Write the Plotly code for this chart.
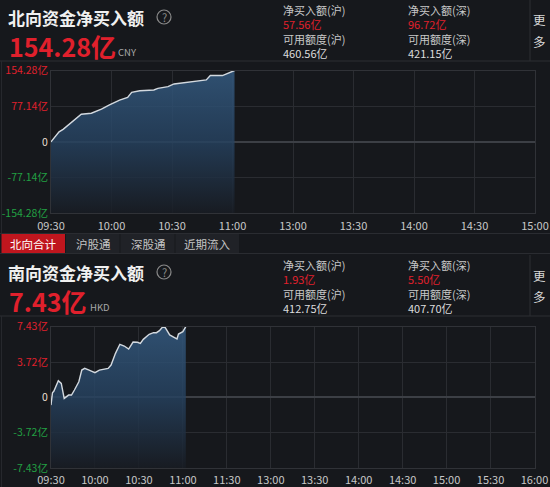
import plotly.graph_objects as go
from decimal import Decimal, ROUND_HALF_UP

# ---------------- data ----------------
# Northbound (Shanghai/Shenzhen connect) net buy, trading minutes since 09:30
north_minutes = [0, 4, 6, 11, 15, 20, 25, 29, 34, 38, 40, 44, 51, 53, 58, 61, 65, 71, 77, 79, 85, 91]
north_values = [0, 21.8, 27.1, 45.2, 59.8, 62.0, 70.7, 80.1, 90.3, 96.0, 106.9, 110.6,
                112.2, 115.6, 119.4, 125.2, 127.4, 130.9, 134.0, 143.4, 143.4, 154.28]
north_tick_minutes = [0, 30, 60, 90, 120, 150, 180, 210, 240]
north_tick_labels = ["09:30", "10:00", "10:30", "11:00", "13:00", "13:30", "14:00", "14:30", "15:00"]
north_total = "154.28亿"
north_currency = "CNY"
north_stats = [("净买入额(沪)", "57.56亿", "可用额度(沪)", "460.56亿"),
               ("净买入额(深)", "96.72亿", "可用额度(深)", "421.15亿")]

# Southbound net buy
south_minutes = [0, 1, 2, 5, 7, 9, 12, 14, 16, 19, 21, 23, 26, 30, 33, 36, 39, 41, 44, 47, 50,
                 53, 56, 59, 61, 63, 67, 70, 72, 74, 76, 78, 81, 84, 86, 87, 90, 92]
south_values = [-0.81, 0.49, 0.66, 1.75, 1.47, -0.11, 0.24, 0.24, 0.77, 1.64, 2.87, 3.05, 2.87,
                2.59, 2.87, 2.95, 3.05, 3.40, 4.63, 5.58, 5.40, 5.08, 5.82, 5.79, 5.68, 6.10,
                6.63, 6.80, 6.80, 7.01, 7.38, 7.33, 6.56, 6.31, 6.14, 6.66, 6.91, 7.43]
south_tick_minutes = [0, 30, 60, 90, 120, 150, 180, 210, 240, 270, 300, 330]
south_tick_labels = ["09:30", "10:00", "10:30", "11:00", "11:30", "13:00", "13:30",
                     "14:00", "14:30", "15:00", "15:30", "16:00"]
south_total = "7.43亿"
south_currency = "HKD"
south_stats = [("净买入额(沪)", "1.93亿", "可用额度(沪)", "412.75亿"),
               ("净买入额(深)", "5.50亿", "可用额度(深)", "407.70亿")]

tab_labels = ["北向合计", "沪股通", "深股通", "近期流入"]

# ---------------- styling ----------------
W, H = 550, 487
BG = "#16181c"
GRID = "#2a2c31"
FRAME = "#303237"
RED = "#e0202c"
GREEN = "#22a043"
TXT = "#c8c8c8"
FONT = "Noto Sans CJK SC"
BIG = 25  # headline number size


def px(x):
    return x / W


def py(y):
    return 1 - y / H


def fmt2(v):
    return str(Decimal(str(v)).quantize(Decimal("0.01"), rounding=ROUND_HALF_UP))


def approx_width(s, size):
    # rough advance widths for bold Noto Sans CJK
    w = 0.0
    for ch in s:
        if ch.isdigit():
            w += 0.57
        elif ch == ".":
            w += 0.28
        else:
            w += 1.0
    return w * size


def ytick_text(vmax):
    half = vmax / 2
    vals = [-vmax, -half, 0, half, vmax]
    txt = []
    for v in vals:
        if v > 0:
            txt.append(f'<span style="color:{RED}">{fmt2(v)}亿</span>')
        elif v < 0:
            txt.append(f'<span style="color:{GREEN}">-{fmt2(-v)}亿</span>')
        else:
            txt.append('<span style="color:#e6ded2">0</span>')
    return vals, txt


gradient = [[0.0, "rgba(24,28,35,0.85)"],
            [0.5, "rgba(38,66,96,0.82)"],
            [1.0, "rgba(52,90,128,0.85)"]]

fig = go.Figure()


def add_series(xs, ys, vmax, xa, ya):
    fig.add_trace(go.Scatter(x=xs, y=[-vmax] * len(xs), mode="lines",
                             line=dict(width=0), hoverinfo="skip", showlegend=False,
                             xaxis=xa, yaxis=ya))
    fig.add_trace(go.Scatter(x=xs, y=ys, mode="lines", fill="tonexty",
                             fillgradient=dict(type="vertical", colorscale=gradient,
                                               start=-vmax, stop=vmax),
                             line=dict(color="#d3d9df", width=1.4),
                             hoverinfo="skip", showlegend=False,
                             xaxis=xa, yaxis=ya))


north_max = north_values[-1]
south_max = south_values[-1]
add_series(north_minutes, north_values, north_max, "x", "y")
add_series(south_minutes, south_values, south_max, "x2", "y2")

axis_common = dict(showgrid=True, gridcolor=GRID, gridwidth=1, showline=True, mirror=True,
                   linecolor=FRAME, linewidth=1, ticks="", fixedrange=True, automargin=False)

nv, nt = ytick_text(north_max)
sv, st = ytick_text(south_max)

fig.update_layout(
    width=W, height=H,
    margin=dict(l=0, r=0, t=0, b=0, pad=0),
    paper_bgcolor=BG, plot_bgcolor=BG,
    font=dict(family=FONT, color=TXT, size=11),
    xaxis=dict(domain=[px(51), px(535)], range=[0, 240], tickvals=north_tick_minutes,
               ticktext=north_tick_labels, zeroline=False, anchor="y", ticklabelstandoff=2,
               tickfont=dict(size=11, color=TXT), **axis_common),
    yaxis=dict(domain=[py(213.3), py(70.5)], range=[-north_max, north_max], tickvals=nv,
               ticktext=nt, zeroline=True, zerolinecolor="#3c3f45", zerolinewidth=1.5,
               anchor="x", tickfont=dict(size=10.5), **axis_common),
    xaxis2=dict(domain=[px(51), px(534.5)], range=[0, 330], tickvals=south_tick_minutes,
                ticktext=south_tick_labels, zeroline=False, anchor="y2", ticklabelstandoff=2,
                tickfont=dict(size=11, color=TXT), **axis_common),
    yaxis2=dict(domain=[py(468), py(326.7)], range=[-south_max, south_max], tickvals=sv,
                ticktext=st, zeroline=True, zerolinecolor="#3c3f45", zerolinewidth=1.5,
                anchor="x2", tickfont=dict(size=10.5), **axis_common),
)

shapes = []
annotations = []


def line(x0, y0, x1, y1, color=FRAME, width=1):
    shapes.append(dict(type="line", xref="paper", yref="paper", x0=px(x0), y0=py(y0),
                       x1=px(x1), y1=py(y1), line=dict(color=color, width=width)))


def text(x, y, s, size, color, bold=False, xanchor="left"):
    if bold:
        s = f"<b>{s}</b>"
    annotations.append(dict(xref="paper", yref="paper", x=px(x), y=py(y), text=s,
                            showarrow=False, xanchor=xanchor, yanchor="middle", borderpad=0,
                            align="left", font=dict(family=FONT, size=size, color=color)))


def header(top, title, total, currency, stats):
    # title, help icon, headline total
    text(7, top + 17, title, 17, "#f0f0f0", bold=True)
    shapes.append(dict(type="circle", xref="paper", yref="paper",
                       x0=px(157), x1=px(171), y0=py(top + 10), y1=py(top + 24),
                       line=dict(color="#8a8a8a", width=1.2)))
    text(164, top + 17, "?", 11, "#8a8a8a", xanchor="center")
    text(8, top + 46, total, BIG, RED, bold=True)
    text(approx_width(total, BIG) + 14, top + 52, currency, 9.5, "#a8a8a8")
    # stats columns: label / value / label / value, one block per exchange
    for col, (lbl1, val1, lbl2, val2) in zip([282, 407], stats):
        block = (f"{lbl1}<br><span style='color:{RED}'>{val1}</span><br>"
                 f"{lbl2}<br><span style='color:#dcdcdc'>{val2}</span>")
        text(col, top + 31, block, 11, TXT)
    text(539, top + 20, "更", 12.5, "#d8d8d8", xanchor="center")
    text(539, top + 41.5, "多", 12.5, "#d8d8d8", xanchor="center")
    line(530, top, 530, top + 61, color="#2c2e33")
    line(0, top + 61, 550, top + 61, color="#2c2e33")


header(0, "北向资金净买入额", north_total, north_currency, north_stats)
header(255, "南向资金净买入额", south_total, south_currency, south_stats)

# tab bar between the panels
line(0, 233.5, 550, 233.5, color="#2a2c31")
line(0, 253.5, 550, 253.5, color="#2a2c31")
tab_edges = [1.5, 66, 120.5, 175.5, 240]
for i, lbl in enumerate(tab_labels):
    x0, x1 = tab_edges[i], tab_edges[i + 1]
    fill = "#c0161e" if i == 0 else "#202227"
    shapes.append(dict(type="rect", xref="paper", yref="paper", x0=px(x0), x1=px(x1 - 1),
                       y0=py(253), y1=py(234), fillcolor=fill, line=dict(width=0), layer="below"))
    text((x0 + x1) / 2, 243.5, lbl, 11.5, "#ffffff" if i == 0 else "#c4c4c4", xanchor="center")

# panel left edges
line(1.5, 61, 1.5, 233, color="#26282d")
line(1.5, 316, 1.5, 487, color="#26282d")

fig.update_layout(shapes=shapes, annotations=annotations)
fig.write_html("out.html")
